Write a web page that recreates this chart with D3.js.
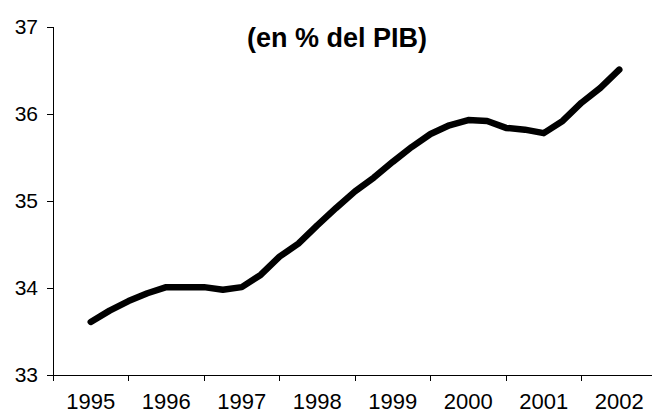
<!DOCTYPE html>
<html>
<head>
<meta charset="utf-8">
<script src="https://cdn.jsdelivr.net/npm/d3@7"></script>
<style>
  body { margin: 0; background: #fff; }
  svg { display: block; }
  .tick-label { font-family: "Liberation Sans", Arial, sans-serif; fill: #000; }
  .chart-title { font-family: "Liberation Sans", Arial, sans-serif; font-weight: bold; fill: #000; }
</style>
</head>
<body>
<div id="chart"></div>
<script>
// Year labels shown on the x axis
var years = [1995, 1996, 1997, 1998, 1999, 2000, 2001, 2002];

// Quarterly observations (position in years), from mid 1995 to mid 2002
var periods = [
  1995.5, 1995.75, 1996, 1996.25, 1996.5, 1996.75, 1997, 1997.25,
  1997.5, 1997.75, 1998, 1998.25, 1998.5, 1998.75, 1999, 1999.25,
  1999.5, 1999.75, 2000, 2000.25, 2000.5, 2000.75, 2001, 2001.25,
  2001.5, 2001.75, 2002, 2002.25, 2002.5
];

// Values in % of GDP
var values = [
  33.61, 33.74, 33.85, 33.94, 34.01, 34.01, 34.01, 33.98,
  34.01, 34.15, 34.36, 34.51, 34.72, 34.92, 35.11, 35.27,
  35.45, 35.62, 35.77, 35.87, 35.93, 35.92, 35.84, 35.82,
  35.78, 35.92, 36.13, 36.30, 36.51
];

// Y axis tick values
var yTicks = [33, 34, 35, 36, 37];

var title = "(en % del PIB)";

var width = 652,
  height = 414;

var svg = d3
  .select("#chart")
  .append("svg")
  .attr("width", width)
  .attr("height", height);

// Scales: the year axis runs past the right edge of the picture
var x = d3.scaleLinear().domain([1995, 2003]).range([53, 657]);
var y = d3.scaleLinear().domain([33, 37]).range([375, 27]);

// Y axis line
svg
  .append("line")
  .attr("x1", x(1995))
  .attr("x2", x(1995))
  .attr("y1", y(37))
  .attr("y2", y(33))
  .attr("stroke", "#000")
  .attr("stroke-width", 1)
  .attr("shape-rendering", "crispEdges");

// Y ticks
svg
  .selectAll(".y-tick")
  .data(yTicks)
  .enter()
  .append("line")
  .attr("class", "y-tick")
  .attr("x1", x(1995) - 6)
  .attr("x2", x(1995))
  .attr("y1", function(d) {
    return y(d);
  })
  .attr("y2", function(d) {
    return y(d);
  })
  .attr("stroke", "#000")
  .attr("shape-rendering", "crispEdges");

// Y labels
svg
  .selectAll(".y-label")
  .data(yTicks)
  .enter()
  .append("text")
  .attr("class", "tick-label")
  .attr("x", x(1995) - 15)
  .attr("y", function(d) {
    return y(d);
  })
  .attr("dy", "0.35em")
  .attr("text-anchor", "end")
  .style("font-size", "21px")
  .text(function(d) {
    return d;
  });

// X axis line
svg
  .append("line")
  .attr("x1", x(1995))
  .attr("x2", width)
  .attr("y1", y(33))
  .attr("y2", y(33))
  .attr("stroke", "#000")
  .attr("shape-rendering", "crispEdges");

// X ticks between the years
svg
  .selectAll(".x-tick")
  .data(years)
  .enter()
  .append("line")
  .attr("class", "x-tick")
  .attr("x1", function(d) {
    return x(d);
  })
  .attr("x2", function(d) {
    return x(d);
  })
  .attr("y1", y(33))
  .attr("y2", y(33) + 6)
  .attr("stroke", "#000")
  .attr("shape-rendering", "crispEdges");

// X labels centered in each year
svg
  .selectAll(".x-label")
  .data(years)
  .enter()
  .append("text")
  .attr("class", "tick-label")
  .attr("x", function(d) {
    return x(d + 0.5);
  })
  .attr("y", 409)
  .attr("text-anchor", "middle")
  .style("font-size", "22px")
  .text(function(d) {
    return d;
  });

// The series line
var line = d3
  .line()
  .x(function(d, i) {
    return x(periods[i]);
  })
  .y(function(d) {
    return y(d);
  });

svg
  .append("path")
  .datum(values)
  .attr("d", line)
  .attr("fill", "none")
  .attr("stroke", "#000")
  .attr("stroke-width", 6.5)
  .attr("stroke-linejoin", "round")
  .attr("stroke-linecap", "round");

// Title
svg
  .append("text")
  .attr("class", "chart-title")
  .attr("x", 337)
  .attr("y", 47)
  .attr("text-anchor", "middle")
  .style("font-size", "27px")
  .text(title);
</script>
</body>
</html>
